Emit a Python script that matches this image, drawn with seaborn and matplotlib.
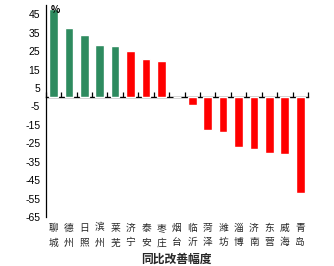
import matplotlib
matplotlib.use("Agg")
import matplotlib.pyplot as plt
import seaborn as sns
import pandas as pd
import numpy as np

cities = ["聊城", "德州", "日照", "滨州", "莱芜", "济宁", "泰安", "枣庄", "烟台",
          "临沂", "菏泽", "潍坊", "淄博", "济南", "东营", "威海", "青岛"]
values = [47.7, 37.8, 33.5, 28.1, 27.6, 25.3, 21.0, 19.4, 0.0,
          -4.1, -17.9, -18.6, -27.2, -28.3, -30.5, -31.0, -51.8]
groups = ["g"] * 5 + ["r"] * 12
yticks = [45, 35, 25, 15, 5, -5, -15, -25, -35, -45, -55, -65]
xlabel = "同比改善幅度"
unit = "%"

sns.set_theme(style="white")
plt.rcParams['font.family'] = ['Noto Sans CJK SC', 'DejaVu Sans']
plt.rcParams['axes.unicode_minus'] = False

df = pd.DataFrame({"city": cities, "value": values, "group": groups})

fig = plt.figure(figsize=(3.34, 2.66), dpi=100)
ax = fig.add_axes([0.137, 0.184, 0.785, 0.797])

sns.barplot(data=df, x="city", y="value", hue="group",
            palette={"g": "#2e8b5f", "r": "#ff0000"}, dodge=False,
            legend=False, width=0.56, saturation=1, ax=ax)

ymin, ymax = -65, 50
ax.set_ylim(ymin, ymax)
ax.set_xlim(-0.5, len(cities) - 0.5)
ax.set_yticks(yticks)
ax.set_yticklabels([str(t) for t in yticks], family=['Liberation Sans'], fontsize=7.5)
ax.tick_params(axis='y', direction='out', length=3, width=0.8, pad=1, colors='black')

ax.set_xticks(range(len(cities)))
ax.set_xticklabels(["\n".join(c) for c in cities], fontsize=7, linespacing=1.6)
ax.tick_params(axis='x', length=0, pad=4)

for s in ["top", "right", "bottom"]:
    ax.spines[s].set_visible(False)
ax.spines["left"].set_color("black")
ax.spines["left"].set_linewidth(0.9)

zero_frac = (0 - ymin) / (ymax - ymin)
sec = ax.secondary_xaxis(zero_frac)
sec.set_xticks(np.arange(-0.5, len(cities)), labels=[])
sec.xaxis.set_ticks_position('bottom')
sec.tick_params(axis='x', which='both', top=False, bottom=True,
                labeltop=False, labelbottom=False,
                direction='in', length=3.5, width=0.9, colors='black')
for s in sec.spines.values():
    s.set_color("black")
    s.set_linewidth(1.0)

ax.set_xlabel(xlabel, fontsize=8.5, fontweight='bold', labelpad=4)
ax.set_ylabel("")
ax.text(0.035, 1.0, unit, transform=ax.transAxes, ha='center', va='top',
        fontsize=7, fontweight='bold', color='black')

fig.savefig("out.png", dpi=100)
